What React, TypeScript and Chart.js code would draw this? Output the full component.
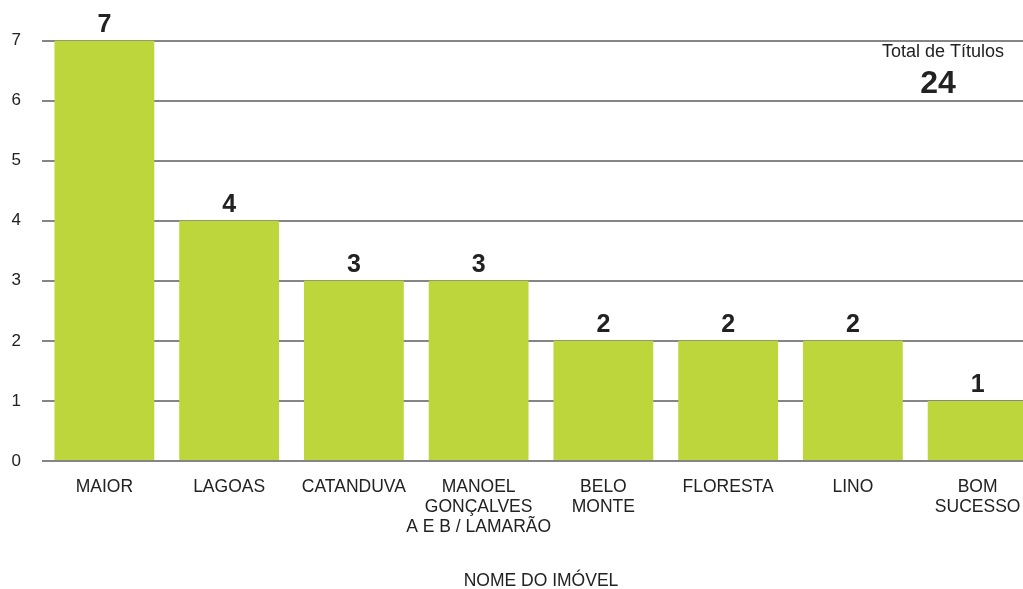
import React, { useEffect, useRef } from "react";
import { Chart, registerables } from "chart.js";

Chart.register(...registerables);

const categories: (string | string[])[] = [
  "MAIOR",
  "LAGOAS",
  "CATANDUVA",
  ["MANOEL", "GONÇALVES", "A E B / LAMARÃO"],
  ["BELO", "MONTE"],
  "FLORESTA",
  "LINO",
  ["BOM", "SUCESSO"],
];
const values: number[] = [7, 4, 3, 3, 2, 2, 2, 1];
const yTicks: number[] = [0, 1, 2, 3, 4, 5, 6, 7];
const axisTitle = "NOME DO IMÓVEL";
const totalLabel = "Total de Títulos";
const totalValue = "24";

const FONT = "'Liberation Sans', Arial, Helvetica, sans-serif";
const TEXT = "#222222";
const BAR = "#bdd63b";
const GRID = "#858585";

const labelPlugin = {
  id: "barLabels",
  afterDatasetsDraw(chart: any) {
    const ctx = chart.ctx;
    const meta = chart.getDatasetMeta(0);
    ctx.save();
    ctx.fillStyle = TEXT;
    ctx.font = `bold 25px ${FONT}`;
    ctx.textAlign = "center";
    ctx.textBaseline = "alphabetic";
    meta.data.forEach((bar: any, i: number) => {
      ctx.fillText(String(values[i]), bar.x, bar.y - 9);
    });
    ctx.restore();
  },
  afterDraw(chart: any) {
    const ctx = chart.ctx;
    ctx.save();
    ctx.fillStyle = TEXT;
    ctx.textAlign = "center";
    ctx.textBaseline = "alphabetic";
    ctx.font = `18px ${FONT}`;
    ctx.fillText(totalLabel, 943, 57);
    ctx.font = `bold 32px ${FONT}`;
    ctx.fillText(totalValue, 938, 93);
    ctx.restore();
  },
};

export default function App() {
  const ref = useRef<HTMLCanvasElement | null>(null);

  useEffect(() => {
    if (!ref.current) return;
    const chart = new Chart(ref.current, {
      type: "bar",
      data: {
        labels: categories,
        datasets: [
          {
            data: values,
            backgroundColor: BAR,
            borderWidth: 0,
            barPercentage: 0.8,
            categoryPercentage: 1,
          },
        ],
      },
      options: {
        animation: false,
        responsive: false,
        layout: { padding: { top: 40.5, left: 0, right: 0, bottom: 0 } },
        plugins: {
          legend: { display: false },
          tooltip: { enabled: false },
        },
        scales: {
          x: {
            grid: { display: false, drawTicks: false },
            border: { display: false },
            ticks: {
              color: TEXT,
              font: { family: FONT, size: 17.5, lineHeight: 1.15 },
              padding: 16,
              maxRotation: 0,
              minRotation: 0,
              autoSkip: false,
            },
            title: {
              display: true,
              text: axisTitle,
              color: TEXT,
              font: { family: FONT, size: 17.5 },
              padding: { top: 4, bottom: -3 },
            },
            afterFit(scale: any) {
              scale.height = 128;
            },
          },
          y: {
            min: 0,
            max: 7,
            afterBuildTicks(scale: any) {
              scale.ticks = yTicks.map((v) => ({ value: v }));
            },
            grid: { color: GRID, lineWidth: 2, drawTicks: false },
            border: { display: false },
            ticks: {
              color: TEXT,
              font: { family: FONT, size: 17 },
              padding: 21,
            },
            afterFit(scale: any) {
              scale.width = 42;
            },
          },
        },
      },
      plugins: [labelPlugin],
    });
    return () => chart.destroy();
  }, []);

  return (
    <div
      style={{
        position: "fixed",
        left: 0,
        top: 0,
        width: "1023px",
        height: "589px",
        overflow: "hidden",
        background: "#ffffff",
      }}
    >
      <canvas ref={ref} width={1040} height={589} style={{ display: "block" }} />
    </div>
  );
}
